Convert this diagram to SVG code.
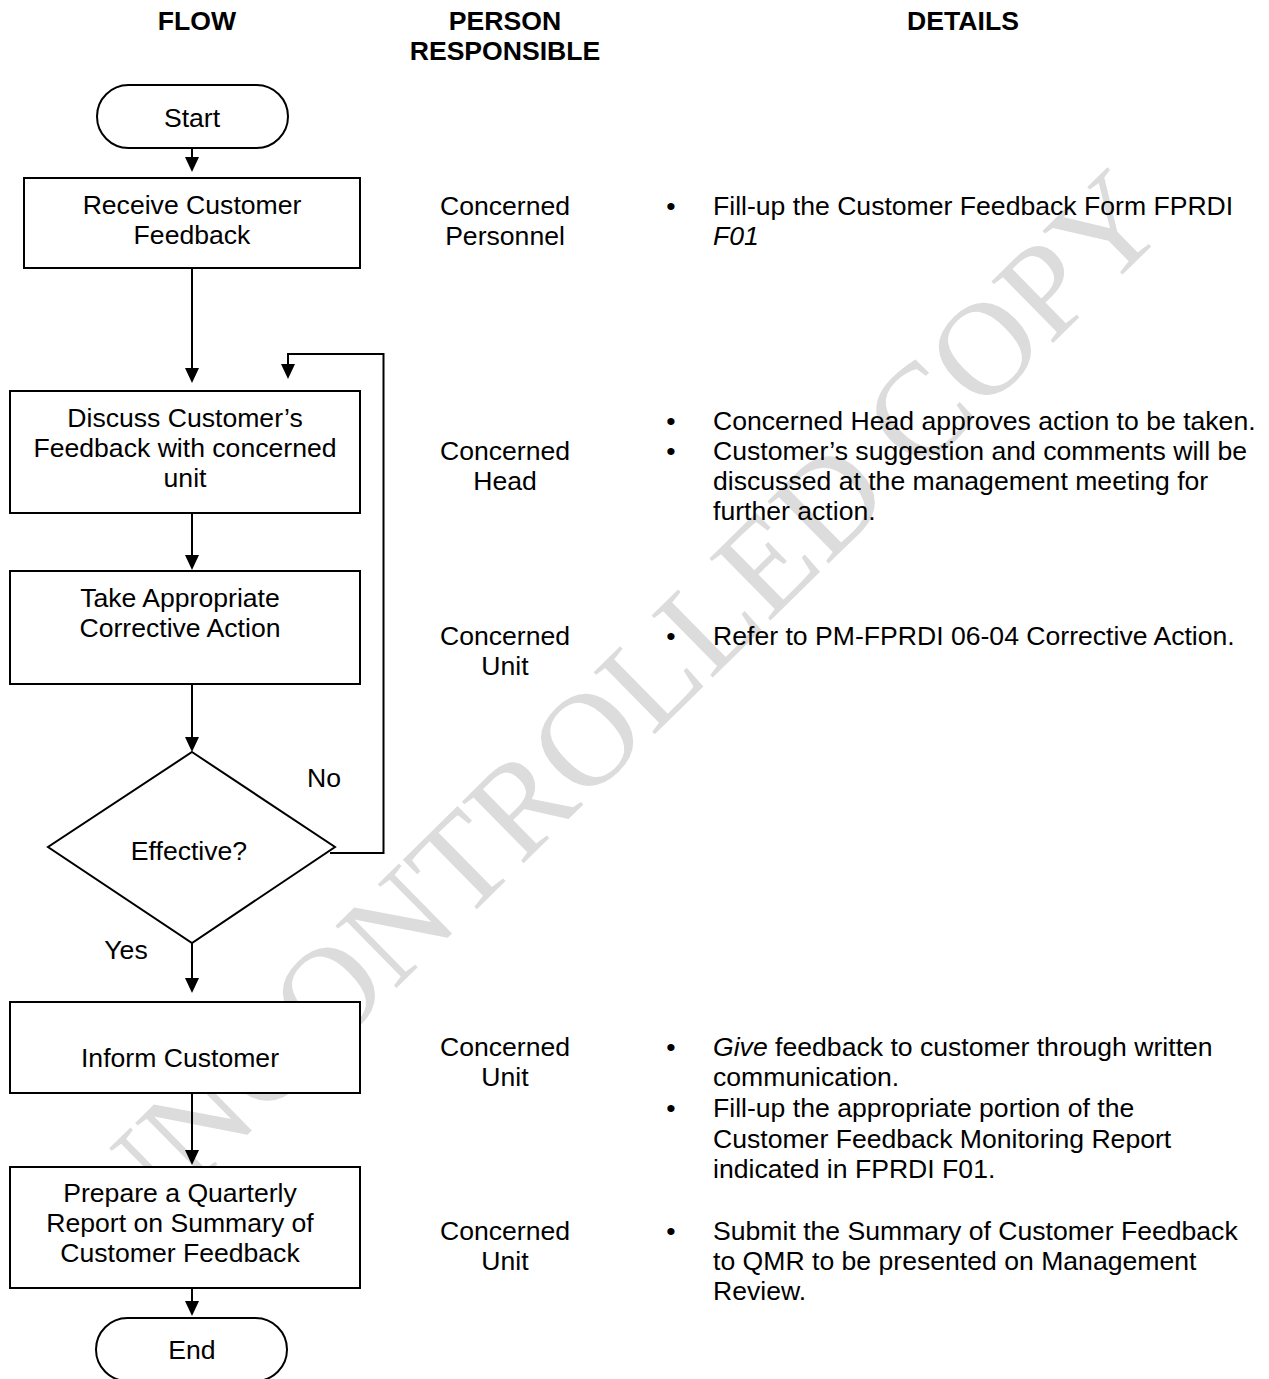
<svg xmlns="http://www.w3.org/2000/svg" width="1269" height="1379" viewBox="0 0 1269 1379">
<style>
text{font-family:"Liberation Sans",Arial,sans-serif;font-size:26.6px;fill:#000}
.h{font-weight:bold;text-anchor:middle}
.c{text-anchor:middle}
.shape{fill:#fff;stroke:#000;stroke-width:2}
.conn{fill:none;stroke:#000;stroke-width:2}
.wm{font-family:"Liberation Serif","Times New Roman",serif;font-size:133px;fill:#dcdcdc;text-anchor:middle}
</style>
<defs>
<marker id="arr" viewBox="0 0 15 14" refX="12" refY="7" markerWidth="15" markerHeight="14" markerUnits="userSpaceOnUse" orient="auto">
<path d="M0,0 L15,7 L0,14 z" fill="#000"/>
</marker>
</defs>
<rect width="1269" height="1379" fill="#fff"/>
<g id="watermark">
<text class="wm" transform="translate(648 741) rotate(-44.5)">UNCONTROLLED COPY</text>
</g>
<g id="headers">
<text class="h" x="197" y="30">FLOW</text>
<text class="h" x="505" y="30">PERSON</text>
<text class="h" x="505" y="60">RESPONSIBLE</text>
<text class="h" x="963" y="30">DETAILS</text>
</g>
<g id="connectors">
<path class="conn" marker-end="url(#arr)" d="M192,148 V169"/>
<path class="conn" marker-end="url(#arr)" d="M192,268 V380"/>
<path class="conn" marker-end="url(#arr)" d="M192,513 V567"/>
<path class="conn" marker-end="url(#arr)" d="M192,684 V749"/>
<path class="conn" marker-end="url(#arr)" d="M192,943 V990"/>
<path class="conn" marker-end="url(#arr)" d="M192,1093 V1162"/>
<path class="conn" marker-end="url(#arr)" d="M192,1288 V1313"/>
<path class="conn" marker-end="url(#arr)" d="M330,853 H383.5 V354 H288 V376"/>
</g>
<g id="start">
<rect class="shape" x="97" y="85" width="191" height="63" rx="31.5"/>
<text class="c" x="192" y="127">Start</text>
</g>
<g id="receive">
<rect class="shape" x="24" y="178" width="336" height="90"/>
<text class="c" x="192" y="214">Receive Customer</text>
<text class="c" x="192" y="244">Feedback</text>
</g>
<g id="discuss">
<rect class="shape" x="10" y="391" width="350" height="122"/>
<text class="c" x="185" y="427">Discuss Customer’s</text>
<text class="c" x="185" y="457">Feedback with concerned</text>
<text class="c" x="185" y="487">unit</text>
</g>
<g id="take">
<rect class="shape" x="10" y="571" width="350" height="113"/>
<text class="c" x="180" y="607">Take Appropriate</text>
<text class="c" x="180" y="637">Corrective Action</text>
</g>
<g id="decision">
<polygon class="shape" points="192,752 335,847 192,943 48,847"/>
<text class="c" x="189" y="860">Effective?</text>
</g>
<g id="labels">
<text class="c" x="324" y="787">No</text>
<text class="c" x="126" y="959">Yes</text>
</g>
<g id="inform">
<rect class="shape" x="10" y="1002" width="350" height="91"/>
<text class="c" x="180" y="1067">Inform Customer</text>
</g>
<g id="prepare">
<rect class="shape" x="10" y="1167" width="350" height="121"/>
<text class="c" x="180" y="1202">Prepare a Quarterly</text>
<text class="c" x="180" y="1232">Report on Summary of</text>
<text class="c" x="180" y="1262">Customer Feedback</text>
</g>
<g id="end">
<rect class="shape" x="96" y="1318" width="191" height="63" rx="31.5"/>
<text class="c" x="192" y="1359">End</text>
</g>
<g id="persons">
<text class="c" x="505" y="215">Concerned</text>
<text class="c" x="505" y="245">Personnel</text>
<text class="c" x="505" y="460">Concerned</text>
<text class="c" x="505" y="490">Head</text>
<text class="c" x="505" y="645">Concerned</text>
<text class="c" x="505" y="675">Unit</text>
<text class="c" x="505" y="1056">Concerned</text>
<text class="c" x="505" y="1086">Unit</text>
<text class="c" x="505" y="1240">Concerned</text>
<text class="c" x="505" y="1270">Unit</text>
</g>
<g id="details">
<text class="c" x="671" y="215">•</text>
<text x="713" y="215">Fill-up the Customer Feedback Form FPRDI</text>
<text x="713" y="245" font-style="italic">F01</text>
<text class="c" x="671" y="430">•</text>
<text x="713" y="430">Concerned Head approves action to be taken.</text>
<text class="c" x="671" y="460">•</text>
<text x="713" y="460">Customer’s suggestion and comments will be</text>
<text x="713" y="490">discussed at the management meeting for</text>
<text x="713" y="520">further action.</text>
<text class="c" x="671" y="645">•</text>
<text x="713" y="645">Refer to PM-FPRDI 06-04 Corrective Action.</text>
<text class="c" x="671" y="1056">•</text>
<text x="713" y="1056"><tspan font-style="italic">Give</tspan> feedback to customer through written</text>
<text x="713" y="1086">communication.</text>
<text class="c" x="671" y="1117">•</text>
<text x="713" y="1117">Fill-up the appropriate portion of the</text>
<text x="713" y="1148">Customer Feedback Monitoring Report</text>
<text x="713" y="1178">indicated in FPRDI F01.</text>
<text class="c" x="671" y="1240">•</text>
<text x="713" y="1240">Submit the Summary of Customer Feedback</text>
<text x="713" y="1270">to QMR to be presented on Management</text>
<text x="713" y="1300">Review.</text>
</g>
</svg>
